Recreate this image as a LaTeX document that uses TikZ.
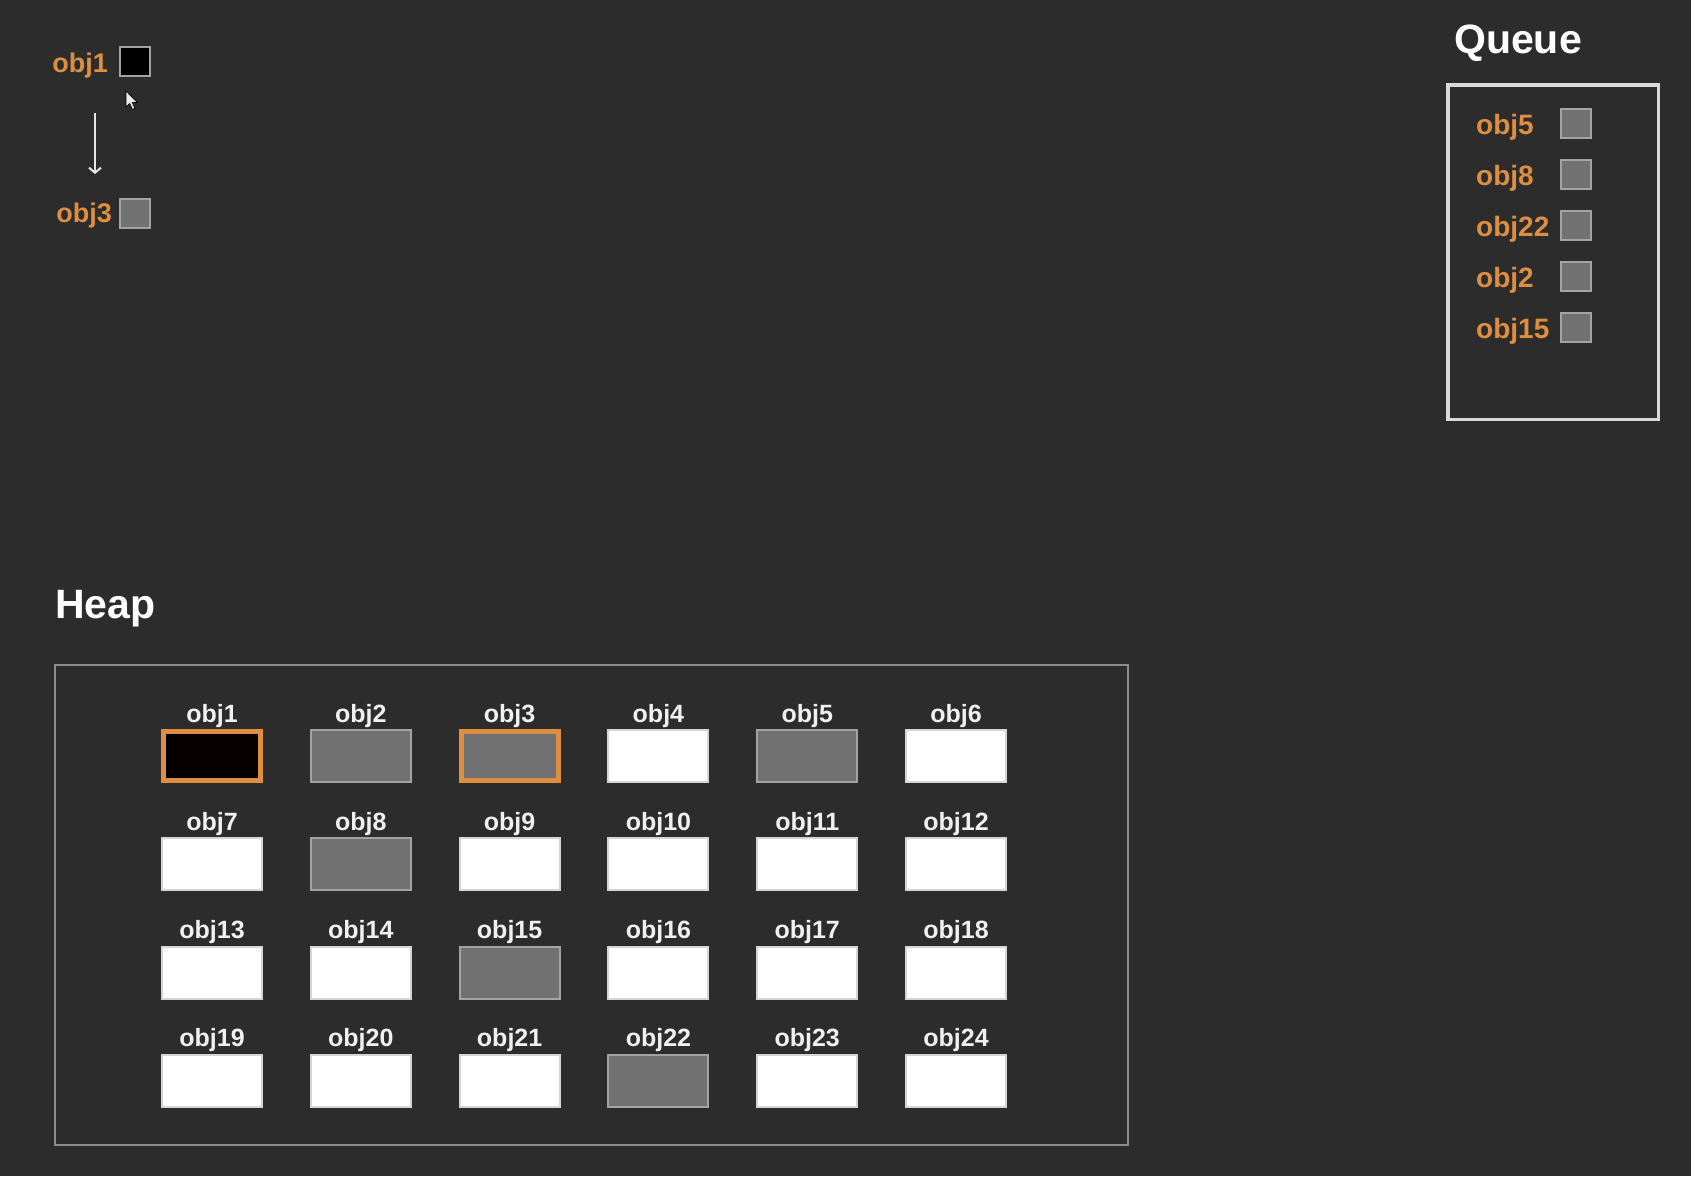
\documentclass[tikz,border=0pt]{standalone}
\usepackage{fontspec}
\setmainfont{Liberation Sans}
\usetikzlibrary{arrows.meta}
\definecolor{bg}{HTML}{2C2C2C}
\definecolor{orng}{RGB}{222,142,64}
\definecolor{gfill}{HTML}{717171}
\definecolor{gedge}{HTML}{A3A3A3}
\definecolor{wedge}{HTML}{D5D5D5}
\definecolor{hedge}{HTML}{8C8C8C}
\definecolor{qedge}{HTML}{D9D9D9}
\definecolor{blk}{HTML}{060000}
\begin{document}
\begin{tikzpicture}[x=1pt,y=-1pt,
  cw/.style={draw=wedge,fill=white,line width=2pt,minimum width=100pt,minimum height=52pt,inner sep=0pt,outer sep=0pt},
  cg/.style={cw,draw=gedge,fill=gfill},
  cok/.style={cw,draw=orng,fill=blk,line width=5pt,minimum width=97pt,minimum height=49pt},
  cog/.style={cw,draw=orng,fill=gfill,line width=5pt,minimum width=97pt,minimum height=49pt},
  hlabel/.style={text=white!94!black,font=\bfseries\fontsize{25}{30}\selectfont,anchor=base,inner sep=0pt},
  olabel/.style={text=orng,font=\bfseries\fontsize{27}{32}\selectfont,inner sep=0pt},
  sq/.style={draw=gedge,fill=gfill,line width=2pt,minimum width=30pt,minimum height=29pt,inner sep=0pt,outer sep=0pt},
  title/.style={text=white,font=\bfseries\fontsize{41}{48}\selectfont,anchor=base west,inner sep=0pt}]
\useasboundingbox (0,0) rectangle (1691,1176);
\fill[bg] (0,0) rectangle (1691,1176);

% top-left reference chain
\node[olabel,anchor=base east] (t1) at (108,72) {obj1};
\node[sq,fill=black] (tb1) at (134.5,61.5) {};
\node[olabel,anchor=base east] (t3) at (112,222) {obj3};
\node[sq] (tb3) at (135,213) {};
\coordinate (a1) at (95,113);
\coordinate (a2) at (95,174);
\draw[white!90!black,line width=2pt,-{Straight Barb[length=5pt,width=12pt,line width=2pt]}] (a1) -- (a2);
% mouse cursor
\draw[black,line width=0.6pt,fill=white!92!black] (126,91) -- (126,107) -- (129.8,103.4) -- (132.4,109.4) -- (134.8,108.3) -- (132.3,102.5) -- (137.2,102.5) -- cycle;

% Queue
\node[title] (qt) at (1454,53) {Queue};
\node[draw=qedge,line width=3.5pt,minimum width=210.5pt,minimum height=334.5pt,inner sep=0pt] (queue) at (1553,252) {};
\foreach \n [count=\k from 0] in {5,8,22,2,15} {
  \pgfmathsetmacro{\cy}{123+51.2*\k}
  \node[olabel,anchor=base west,font=\bfseries\fontsize{28}{32}\selectfont] (ql\n) at (1476,\cy+11) {obj\n};
  \node[sq,minimum width=30pt,minimum height=29pt] (qb\n) at (1576,\cy) {};
}

% Heap
\node[title] (ht) at (55,618) {Heap};
\node[draw=hedge,line width=2pt,minimum width=1073pt,minimum height=480pt,inner sep=0pt] (heap) at (591.5,905) {};
\foreach \n/\st [count=\k from 0] in {1/cok,2/cg,3/cog,4/cw,5/cg,6/cw,
    7/cw,8/cg,9/cw,10/cw,11/cw,12/cw,
    13/cw,14/cw,15/cg,16/cw,17/cw,18/cw,
    19/cw,20/cw,21/cw,22/cg,23/cw,24/cw} {
  \pgfmathtruncatemacro{\col}{mod(\k,6)}
  \pgfmathtruncatemacro{\row}{\k/6}
  \pgfmathsetmacro{\cx}{212+148.8*\col}
  \pgfmathsetmacro{\cy}{756+108.3*\row}
  \node[\st] (h\n) at (\cx,\cy) {};
  \node[hlabel] (hl\n) at (\cx,\cy-34) {obj\n};
}
\end{tikzpicture}
\end{document}
